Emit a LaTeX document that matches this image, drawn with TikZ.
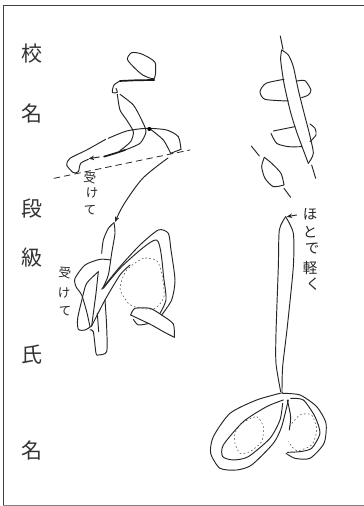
\documentclass[tikz,border=0pt]{standalone}
\usepackage{fontspec}
\usetikzlibrary{arrows.meta}
\newfontfamily\cjk{Noto Sans CJK JP}[Scale=1]
\tikzset{
  ink/.style={line width=.95pt,black!85,line cap=round,line join=round},
  inkb/.style={line width=1.7pt,black!90,line cap=round},
  dots/.style={line width=.55pt,black!70,dash pattern=on 1.6pt off 2.4pt},
  arr/.style={ink,-{Stealth[length=5.5pt,width=4.5pt]}},
  lab/.style={font=\cjk\fontsize{21}{21}\selectfont,black!80,inner sep=0},
  hand/.style={font=\cjk\fontsize{12.5}{12.5}\selectfont,black!85,inner sep=0},
  handb/.style={font=\cjk\fontsize{14.5}{14.5}\selectfont,black!85,inner sep=0}
}
\newcommand{\sk}[2][ink]{\draw[#1] plot[smooth,tension=.42] coordinates {#2};}
\newcommand{\skc}[2][ink]{\draw[#1] plot[smooth cycle,tension=.42] coordinates {#2};}
\begin{document}
\begin{tikzpicture}[x=1pt,y=-1pt]
\useasboundingbox (0,0) rectangle (364,506);
\fill[white] (0,0) rectangle (364,506);
% frame
\draw[line width=1pt,black!75] (364,5.5) -- (3,5.5) -- (3,505);
\draw[line width=.9pt,black!50] (3,505) -- (364,505);
% side labels
\node[lab] (l1) at (32,54) {校};
\node[lab] (l2) at (32,114) {名};
\node[lab] (l3) at (32,209) {段};
\node[lab] (l4) at (32,258) {級};
\node[lab] (l5) at (32,355) {氏};
\node[lab] (l6) at (32,451) {名};
% handwritten notes
\node[hand,rotate=-8] (a1) at (90,178) {受};
\node[hand] (a2) at (92,193) {け};
\node[hand] (a3) at (90,210) {て};
\node[hand,rotate=-8] (b1) at (65,273) {受};
\node[hand] (b2) at (64,293) {け};
\node[hand] (b3) at (65,311) {て};
\node[handb] (c1) at (310,214) {ほ};
\node[handb] (c2) at (310,232) {と};
\node[handb] (c3) at (312,249) {で};
\node[handb] (c4) at (310,268) {軽};
\node[handb] (c5) at (313,284) {く};
% --- upper left figure (zoom origin 40,30)
\begin{scope}[shift={(40,30)},x=.3333pt,y=-.3333pt]
\skc{(262,88)(275,68)(305,72)(345,97)(343,145)(310,136)(285,115)}
\sk[inkb]{(343,150)(285,151)(240,153)}
\sk{(240,153)(222,165)(217,187)(232,187)(228,175)}
\sk{(232,193)(240,240)(260,270)(280,305)(272,335)(240,362)}
\sk{(240,193)(280,225)(305,270)(318,305)(300,340)(255,360)}
\sk[inkb]{(255,360)(225,370)(192,380)}
\sk{(205,325)(260,303)(320,295)(380,300)(415,320)(423,358)}
\draw[ink] (423,358) -- (392,370);
\sk{(328,295)(370,330)(392,370)}
\fill[black] (328,297) circle (6);
\sk{(197,328)(140,360)(90,385)(80,405)(100,428)(115,425)(122,400)(145,388)}
\draw[arr] (178,381) -- (146,386);
\draw[ink,line width=.8pt,dash pattern=on 6pt off 4.5pt] (42,445) -- (450,360);
\end{scope}
% long arrow
\draw[arr] plot[smooth,tension=.5] coordinates {(168,158)(143,178)(124,204)(115,222)};
% --- lower left figure (zoom origin 40,200)
\begin{scope}[shift={(40,200)},x=.3333pt,y=-.3333pt]
\sk{(185,160)(190,120)(205,85)(222,68)}
\sk{(222,68)(225,100)(215,160)(205,225)(188,265)}
\sk{(212,180)(180,178)(135,195)(105,235)(108,260)(125,285)(140,335)(150,380)}
\sk{(175,215)(140,250)(128,290)(113,355)(115,388)(135,390)(155,378)}
\draw[ink] (175,215) -- (168,280) -- (155,378);
\sk{(155,378)(195,300)(240,225)(270,195)}
\sk{(185,268)(240,200)(300,135)(355,90)(385,100)(393,150)(405,240)(395,300)(365,345)}
\sk{(190,265)(250,195)(350,120)(372,240)(378,300)(360,340)}
\sk{(195,300)(200,380)(200,455)(175,465)(168,460)(160,395)(150,390)}
\draw[ink] (172,340) -- (176,395);
\skc[dots]{(350,182)(310,175)(260,210)(240,265)(265,310)(300,325)(345,325)(372,290)(365,220)}
\sk{(272,345)(285,325)(330,325)(365,345)(400,372)(403,412)}
\sk{(403,412)(370,395)(335,375)(272,345)}
\sk{(280,358)(295,375)(328,370)}
\end{scope}
% --- upper right figure (zoom origin 210,20)
\begin{scope}[shift={(210,20)},x=.3333pt,y=-.3333pt]
\draw[ink] (211,48) -- (219,88);
\draw[ink] (305,435) -- (317,475);
\draw[ink] (124,378) -- (148,408);
\draw[ink] (222,505) -- (242,532);
\sk{(215,90)(212,120)(222,190)(240,270)(258,330)(280,390)(295,430)}
\sk{(295,430)(310,400)(298,340)(285,290)(265,210)(250,140)(235,105)(215,90)}
\sk{(222,178)(168,190)(150,215)(165,238)(235,243)}
\sk{(262,183)(285,182)(303,210)(295,225)(275,233)}
\sk{(255,320)(190,333)}
\sk{(183,340)(200,370)(235,380)(275,380)}
\sk{(300,312)(315,325)(318,345)(300,365)}
\sk{(163,412)(155,440)(165,475)(190,500)(222,495)}
\sk{(222,495)(213,460)(185,430)(163,412)}
\end{scope}
% --- lower right figure (zoom origin 200,200)
\begin{scope}[shift={(200,200)},x=.3333pt,y=-.3333pt]
\sk{(257,50)(238,90)(235,200)(228,400)(228,490)(242,575)}
\sk{(257,50)(280,100)(280,200)(262,380)(248,500)(246,575)}
\draw[arr] (290,45) -- (260,50);
\sk{(248,578)(170,600)(90,640)(40,710)(32,760)(60,805)(110,810)(155,795)(220,730)(245,680)(265,600)}
\sk{(250,600)(200,620)(130,665)(70,735)(68,770)(100,780)(145,770)(210,715)(240,660)(248,610)}
\sk{(248,580)(300,585)(350,620)(378,670)(372,730)(330,775)(285,775)(258,760)}
\sk{(272,595)(310,600)(345,650)(360,700)(335,745)(300,755)(262,757)}
\sk{(262,600)(272,650)(268,690)}
\skc[dots]{(125,670)(170,650)(190,680)(185,725)(150,755)(120,760)(105,730)(105,700)}
\sk[dots]{(268,680)(300,645)(335,645)(350,690)(335,735)(290,752)(265,725)}
\end{scope}
\end{tikzpicture}
\end{document}
